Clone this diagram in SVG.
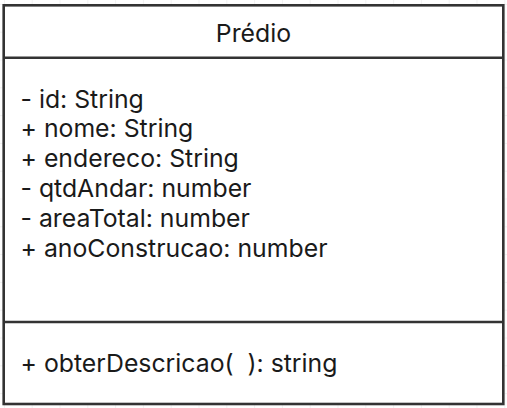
<svg xmlns="http://www.w3.org/2000/svg" width="507" height="408" viewBox="0 0 507 408">
  <defs>
    <pattern id="grid" x="3.9" y="3.9" width="27.8" height="27.8" patternUnits="userSpaceOnUse">
      <path d="M0 0 V27.8 M0 0 H27.8" fill="none" stroke="#e6e6e6" stroke-width="1"/>
    </pattern>
  </defs>
  <style>
    .box { fill: #ffffff; stroke: #333333; stroke-width: 2.6; }
    .div { stroke: #333333; stroke-width: 2.6; }
    .t { font-family: Inter, "Noto Sans", sans-serif; font-size: 24.8px; fill: #1a1a1a; }
  </style>
  <rect x="0" y="0" width="507" height="408" fill="#ffffff"/>
  <rect x="0" y="0" width="507" height="408" fill="url(#grid)"/>
  <g id="predio">
    <rect class="box" x="3.7" y="5.3" width="499.6" height="398.7"/>
    <line class="div" x1="3.7" y1="57.7" x2="503.3" y2="57.7"/>
    <line class="div" x1="3.7" y1="322" x2="503.3" y2="322"/>
    <text class="t" x="253.5" y="41.7" text-anchor="middle">Prédio</text>
    <text class="t" x="20.5" y="107.5">- id: String</text>
    <text class="t" x="20.5" y="137.3">+ nome: String</text>
    <text class="t" x="20.5" y="167.1">+ endereco: String</text>
    <text class="t" x="20.5" y="196.9">- qtdAndar: number</text>
    <text class="t" x="20.5" y="226.7">- areaTotal: number</text>
    <text class="t" x="20.5" y="256.5">+ anoConstrucao: number</text>
    <text class="t" x="20.5" y="371.7" xml:space="preserve">+ obterDescricao(  ): string</text>
  </g>
  <g id="connectors"/>
</svg>
